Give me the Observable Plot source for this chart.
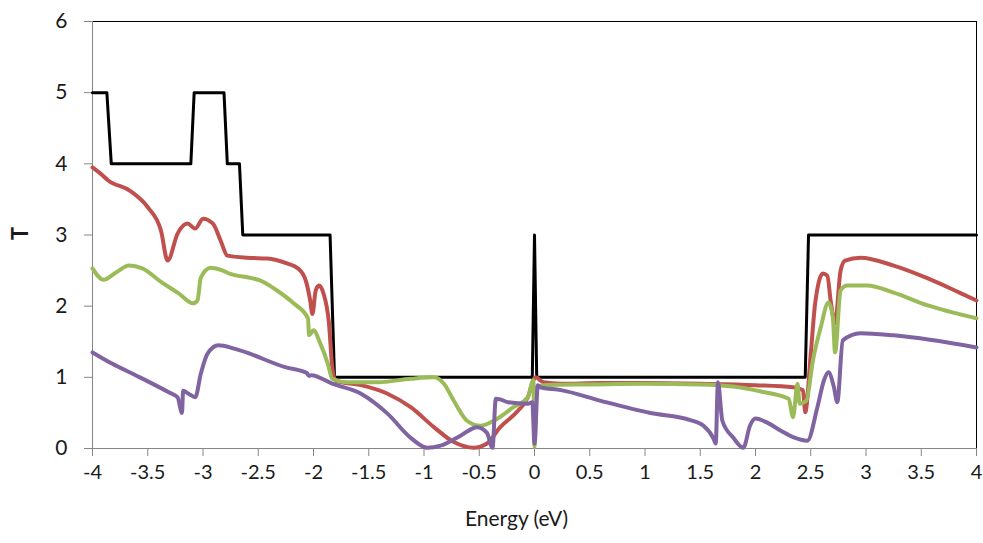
<!DOCTYPE html>
<html><head><meta charset="utf-8">
<script src="https://cdn.jsdelivr.net/npm/d3@7"></script>
<script src="https://cdn.jsdelivr.net/npm/@observablehq/plot@0.6"></script>
<style>body{margin:0;background:#fff}</style>
</head><body><div id="chart"></div>
<script>
const xTicks = [-4,-3.5,-3,-2.5,-2,-1.5,-1,-0.5,0,0.5,1,1.5,2,2.5,3,3.5,4];
const yTicks = [0,1,2,3,4,5,6];
const xTitle = "Energy (eV)";
const yTitle = "T";

const blackE = [-4,-3.87,-3.83,-3.11,-3.08,-2.81,-2.78,-2.67,-2.64,-1.85,-1.81,-0.02,0,0.02,2.45,2.48,4];
const blackT = [5,5,4,4,5,5,4,4,3,3,1,1,3,1,1,3,3];

const redE = [-4,-3.91,-3.86,-3.66,-3.5,-3.38,-3.32,-3.23,-3.14,-3.07,-3,-2.91,-2.84,-2.78,-2.6,-2.42,-2.24,-2.14,-2.07,-2.03,-2.01,-1.98,-1.95,-1.91,-1.86,-1.83,-1.8,-1.57,-1.33,-1.12,-0.91,-0.73,-0.55,-0.43,-0.31,-0.15,-0.06,-0.01,0.01,0.08,0.24,0.6,1,1.5,2,2.34,2.43,2.45,2.5,2.54,2.61,2.65,2.68,2.72,2.77,2.81,2.95,3.25,3.56,3.86,4];
const redT = [3.95,3.84,3.77,3.62,3.39,3.06,2.64,3.02,3.16,3.09,3.23,3.16,2.92,2.71,2.68,2.67,2.6,2.53,2.36,2.08,1.89,2.22,2.29,2.18,1.76,1.14,0.95,0.89,0.77,0.58,0.3,0.09,0.01,0.07,0.3,0.53,0.72,0.96,1.0,0.93,0.91,0.92,0.92,0.91,0.89,0.86,0.82,0.51,1.33,2.04,2.46,2.43,2.08,1.76,2.5,2.64,2.68,2.57,2.39,2.18,2.08];

const greenE = [-4,-3.9,-3.79,-3.67,-3.55,-3.37,-3.22,-3.09,-3.05,-3.02,-2.93,-2.82,-2.78,-2.55,-2.48,-2.33,-2.18,-2.05,-2.04,-2,-1.94,-1.87,-1.83,-1.69,-1.42,-1.12,-0.91,-0.82,-0.73,-0.61,-0.49,-0.37,-0.19,-0.06,-0.01,0,0.02,0.08,0.5,1,1.5,1.8,2.05,2.3,2.34,2.38,2.4,2.46,2.52,2.59,2.66,2.7,2.72,2.77,2.83,3.01,3.25,3.56,4];
const greenT = [2.53,2.37,2.47,2.57,2.53,2.33,2.18,2.04,2.08,2.4,2.54,2.5,2.47,2.39,2.36,2.22,2.04,1.83,1.59,1.66,1.48,1.19,0.98,0.93,0.93,0.98,1.0,0.91,0.67,0.39,0.32,0.39,0.58,0.72,0.96,0.02,0.86,0.89,0.9,0.91,0.9,0.87,0.8,0.7,0.44,0.91,0.63,0.67,1.24,1.7,2.05,1.84,1.35,2.22,2.29,2.29,2.19,2.01,1.83];

const purpleE = [-4,-3.82,-3.61,-3.31,-3.23,-3.19,-3.18,-3.13,-3.07,-3.02,-2.96,-2.86,-2.71,-2.25,-2.06,-2.04,-2.02,-1.83,-1.57,-1.33,-1.12,-0.97,-0.85,-0.67,-0.52,-0.43,-0.38,-0.35,-0.31,-0.24,-0.06,-0.02,0,0.03,0.05,0.24,0.6,1.05,1.41,1.53,1.62,1.64,1.66,1.7,1.8,1.89,1.95,2,2.11,2.23,2.34,2.47,2.56,2.62,2.66,2.71,2.74,2.79,2.95,3.25,4];
const purpleT = [1.35,1.19,1.03,0.79,0.72,0.5,0.81,0.77,0.72,1.05,1.33,1.45,1.4,1.14,1.06,1.02,1.03,0.91,0.77,0.49,0.15,0.01,0.04,0.18,0.3,0.22,0.01,0.7,0.69,0.65,0.63,0.65,0.07,0.89,0.86,0.82,0.67,0.5,0.4,0.32,0.14,0.07,0.93,0.39,0.15,0.01,0.32,0.42,0.36,0.25,0.16,0.11,0.58,0.96,1.07,0.86,0.65,1.52,1.62,1.59,1.42];

const toRows = (E, T) => E.map((e, i) => ({e, t: T[i]}));

const lineOpts = (color, w, curve) => ({x: "e", y: "t", stroke: color, strokeWidth: w, curve, strokeLinejoin: "round", strokeLinecap: "round"});

const chart = Plot.plot({
  width: 983, height: 543,
  marginLeft: 92, marginRight: 7, marginTop: 21, marginBottom: 95,
  x: {domain: [-4, 4]},
  y: {domain: [0, 6]},
  style: {fontFamily: "Lato, 'Open Sans', sans-serif", fontSize: "20px", color: "#1a1a1a", background: "#fff"},
  marks: [
    Plot.frame({stroke: "#000", strokeWidth: 1}),
    Plot.axisY({ticks: yTicks, tickSize: 8, tickPadding: 17, stroke: "#868686", label: null, tickFormat: d => String(d), fontSize: 21}),
    Plot.axisX({ticks: xTicks, tickSize: 8, tickPadding: 8, stroke: "#868686", label: null, tickFormat: d => String(d), fontSize: 20}),
    Plot.ruleX([-4], {stroke: "#868686"}),
    Plot.ruleY([0], {stroke: "#868686"}),
    Plot.line(toRows(blackE, blackT), lineOpts("#000", 3, "linear")),
    Plot.line(toRows(redE, redT), lineOpts("#C0504D", 4, "monotone-x")),
    Plot.line(toRows(greenE, greenT), lineOpts("#9BBB59", 4, "monotone-x")),
    Plot.line(toRows(purpleE, purpleT), lineOpts("#8064A2", 4, "monotone-x")),
    Plot.text([xTitle], {frameAnchor: "bottom", dy: 77, dx: -18, fontSize: 21, fill: "#1a1a1a"}),
    Plot.text([yTitle], {frameAnchor: "left", dx: -72, dy: 5, rotate: -90, fontSize: 22, fontWeight: "bold", fill: "#1a1a1a"})
  ]
});
document.getElementById("chart").append(chart);
</script>
</body></html>
